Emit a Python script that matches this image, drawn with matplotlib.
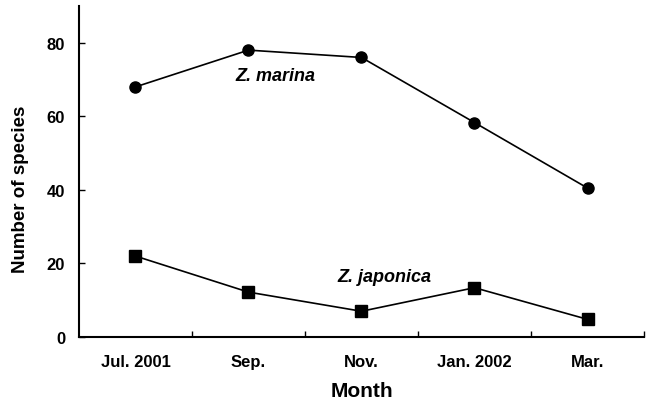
import matplotlib
matplotlib.use("Agg")
import matplotlib.pyplot as plt
import numpy as np

plt.rcParams['font.family'] = ['Liberation Sans', 'DejaVu Sans']
plt.rcParams['font.weight'] = 'bold'

months = ["Jul. 2001", "Sep.", "Nov.", "Jan. 2002", "Mar."]
marina = [68, 78, 76, 58.3, 40.5]
japonica = [22, 12.2, 7, 13.4, 4.8]
yticks = [0, 20, 40, 60, 80]

fig = plt.figure(figsize=(6.49, 4.06), dpi=100)
ax = fig.add_axes([0.1217, 0.1675, 0.8706, 0.8153])

x = np.arange(len(months))
ax.plot(x, marina, color='black', lw=1.2, marker='o', ms=8)
ax.plot(x, japonica, color='black', lw=1.2, marker='s', ms=8)

ax.text(1.24, 71, "Z. marina", fontsize=13, fontweight='bold', style='italic',
        ha='center', va='center')
ax.text(2.2, 16.5, "Z. japonica", fontsize=13, fontweight='bold', style='italic',
        ha='center', va='center')

ax.set_xlim(-0.5, 4.5)
ax.set_ylim(0, 90)
ax.set_xticks(x)
ax.set_xticklabels(months)
ax.set_xticks(np.arange(0.5, 5, 1), minor=True)
ax.set_yticks(yticks)

ax.spines['top'].set_visible(False)
ax.spines['right'].set_visible(False)
for s in ['left', 'bottom']:
    ax.spines[s].set_linewidth(1.5)

ax.tick_params(axis='x', which='major', length=0, pad=12, labelsize=12)
ax.tick_params(axis='x', which='minor', direction='in', length=4, width=1)
ax.tick_params(axis='y', direction='in', length=4, width=1, pad=10, labelsize=12)

ax.set_xlabel("Month", fontsize=15, fontweight='bold', labelpad=9)
ax.set_ylabel("Number of species", fontsize=13.5, fontweight='bold')
ax.yaxis.set_label_coords(-0.089, 0.45)

fig.savefig("out.png", dpi=100)
